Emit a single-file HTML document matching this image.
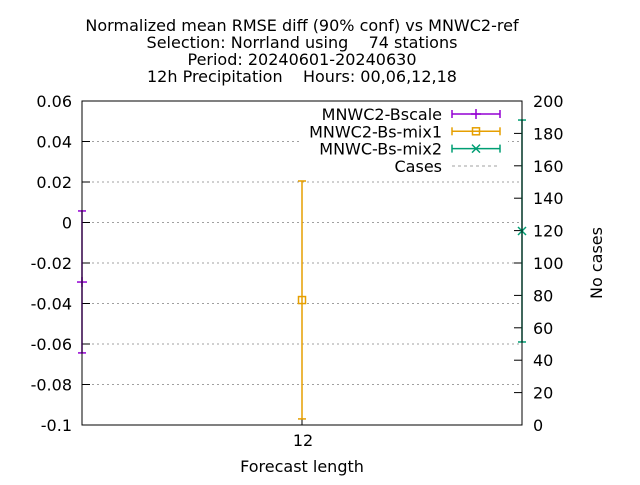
<!DOCTYPE html>
<html><head><meta charset="utf-8"><style>
body{margin:0;background:#fff}
svg{font-family:"DejaVu Sans","Liberation Sans",sans-serif}
text{white-space:pre}
</style></head><body>
<svg id="chart" width="640" height="480" xmlns="http://www.w3.org/2000/svg">
<g font-size="16" text-anchor="middle" fill="#000">
<text x="302" y="31" xml:space="preserve">Normalized mean RMSE diff (90% conf) vs MNWC2-ref</text>
<text x="302" y="48" xml:space="preserve">Selection: Norrland using    74 stations</text>
<text x="302" y="65" xml:space="preserve">Period: 20240601-20240630</text>
<text x="302" y="82" xml:space="preserve">12h Precipitation    Hours: 00,06,12,18</text>
</g>
<g id="grid"></g>
<g id="yticks" font-size="16" text-anchor="end"></g>
<g id="y2ticks" font-size="16" text-anchor="start"></g>
<text x="303" y="446" font-size="16" text-anchor="middle">12</text>
<text x="302" y="472" font-size="16" text-anchor="middle">Forecast length</text>
<text transform="translate(602,263) rotate(-90)" font-size="16" text-anchor="middle">No cases</text>
<rect x="300" y="103" width="208" height="72" fill="#fff"/>
<g id="legend" font-size="16"></g>
<g id="series"></g>
<rect x="82" y="101" width="440" height="324" fill="none" stroke="#000"/>
</svg>
<script>
const categories=[12];
const seriesNames=["MNWC2-Bscale","MNWC2-Bs-mix1","MNWC-Bs-mix2"];
const seriesX=[11.5,12,12.5];
const seriesMean=[-0.0294,-0.0383,-0.0042];
const seriesLow=[-0.0644,-0.097,-0.059];
const seriesHigh=[0.0057,0.0205,0.0506];
const seriesColors=["#9400d3","#e69f00","#009e73"];
const casesValues=[74];
const yTicks=[-0.1,-0.08,-0.06,-0.04,-0.02,0,0.02,0.04,0.06];
const yTickLabels=["-0.1","-0.08","-0.06","-0.04","-0.02","0","0.02","0.04","0.06"];
const y2Ticks=[0,20,40,60,80,100,120,140,160,180,200];

const NS="http://www.w3.org/2000/svg";
const L=82,R=522,T=101,B=425;
const x=v=>L+(v-11.5)/1*(R-L);
const y=v=>T+(0.06-v)/0.16*(B-T);
const y2=v=>B-v/200*(B-T);
function mk(tag,attrs,parent,txt){const e=document.createElementNS(NS,tag);for(const k in attrs)e.setAttribute(k,attrs[k]);if(txt!==undefined)e.textContent=txt;document.getElementById(parent).appendChild(e);return e;}

yTicks.forEach((t,i)=>{
  if(i>0&&i<yTicks.length-1){const g=mk('line',{x1:L,x2:R,y1:y(t),y2:y(t),stroke:'#a0a0a0','stroke-dasharray':'2,3'},'grid');
  
  }
  const tk=mk('line',{x1:L,x2:L+8,y1:y(t),y2:y(t),stroke:'#000'},'grid');
  
  
  const tx=mk('text',{x:72,y:y(t)+6},'yticks',yTickLabels[i]);
  
  
});
y2Ticks.forEach(t=>{
  const tk=mk('line',{x1:R-8,x2:R,y1:y2(t),y2:y2(t),stroke:'#000'},'grid');
  
  
  const tx=mk('text',{x:533,y:y2(t)+6},'y2ticks',String(t));
  
  
});
const xt=mk('line',{x1:x(categories[0]),x2:x(categories[0]),y1:B,y2:B-8,stroke:'#000'},'grid');



function marker(kind,cx,cy,col,parent){
  if(kind===0){mk('line',{x1:cx-5,x2:cx+5,y1:cy,y2:cy,stroke:col,'stroke-width':1.5},parent);mk('line',{x1:cx,x2:cx,y1:cy-5,y2:cy+5,stroke:col,'stroke-width':1.5},parent);}
  else if(kind===1){mk('rect',{x:cx-3.5,y:cy-3.5,width:7,height:7,fill:'none',stroke:col,'stroke-width':1.5},parent);}
  else {mk('path',{d:`M${cx-4} ${cy-4}L${cx+4} ${cy+4}M${cx-4} ${cy+4}L${cx+4} ${cy-4}`,stroke:col,'stroke-width':1.5},parent);}
}
seriesNames.forEach((n,i)=>{
  const g=mk('g',{id:'s'+i},'series');
  
  
  const c=seriesColors[i],cx=x(seriesX[i]);
  mk('line',{x1:cx,x2:cx,y1:y(seriesLow[i]),y2:y(seriesHigh[i]),stroke:c,'stroke-width':1.5},'s'+i);
  mk('line',{x1:cx-4,x2:cx+4,y1:y(seriesLow[i]),y2:y(seriesLow[i]),stroke:c,'stroke-width':1.5},'s'+i);
  mk('line',{x1:cx-4,x2:cx+4,y1:y(seriesHigh[i]),y2:y(seriesHigh[i]),stroke:c,'stroke-width':1.5},'s'+i);
  marker(i,cx,y(seriesMean[i]),c,'s'+i);
  const ly=114+i*17.3;
  const le=mk('g',{id:'l'+i},'legend');
  
  
  mk('text',{x:442,y:ly+6,'text-anchor':'end'},'l'+i,n);
  mk('line',{x1:452,x2:500,y1:ly,y2:ly,stroke:c,'stroke-width':1.5},'l'+i);
  mk('line',{x1:452,x2:452,y1:ly-4,y2:ly+4,stroke:c,'stroke-width':1.5},'l'+i);
  mk('line',{x1:500,x2:500,y1:ly-4,y2:ly+4,stroke:c,'stroke-width':1.5},'l'+i);
  marker(i,476,ly,c,'l'+i);
});
const lc=mk('g',{id:'lc'},'legend');


mk('text',{x:442,y:166+6,'text-anchor':'end'},'lc','Cases');
mk('line',{x1:452,x2:500,y1:166,y2:166,stroke:'#a0a0a0','stroke-dasharray':'3,3'},'lc');
</script>
</body></html>
